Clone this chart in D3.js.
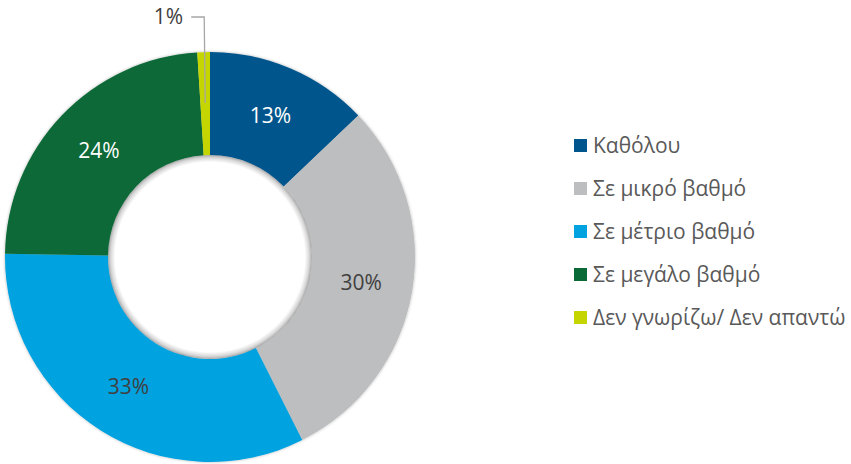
<!DOCTYPE html>
<html><head><meta charset="utf-8">
<script src="https://cdn.jsdelivr.net/npm/d3@7"></script>
<style>body{margin:0;background:#fff}svg{display:block}</style>
</head><body>
<script>
const categories = ["Καθόλου","Σε μικρό βαθμό","Σε μέτριο βαθμό","Σε μεγάλο βαθμό","Δεν γνωρίζω/ Δεν απαντώ"];
const values = [13, 30, 33, 24, 1];
const labels = ["13%","30%","33%","24%","1%"];
const colors = ["#00568C","#BDBEBF","#00A2E0","#0A6A37","#C5D500"];
const labelColors = ["#FFFFFF","#404040","#404040","#FFFFFF","#404040"];

const W = 851, H = 464;
const cx = 210, cy = 257, rOuter = 205, rInner = 102;
const svg = d3.select("body").append("svg").attr("width", W).attr("height", H);
const defs = svg.append("defs");
const f = defs.append("filter").attr("id","sh").attr("x","-10%").attr("y","-10%").attr("width","120%").attr("height","120%");
f.append("feDropShadow").attr("dx",0).attr("dy",0).attr("stdDeviation",1.5).attr("flood-color","#000").attr("flood-opacity",0.3);
const rg = defs.append("radialGradient").attr("id","hole");
rg.append("stop").attr("offset","93%").attr("stop-color","#000").attr("stop-opacity",0);
rg.append("stop").attr("offset","100%").attr("stop-color","#000").attr("stop-opacity",0.25);

const g = svg.append("g").attr("transform",`translate(${cx},${cy})`);
const pie = d3.pie().sort(null).value(d => d)(values);
const arc = d3.arc().innerRadius(rInner).outerRadius(rOuter);
const mid = d3.arc().innerRadius((rInner+rOuter)/2).outerRadius((rInner+rOuter)/2);

g.append("g").attr("filter","url(#sh)")
  .selectAll("path").data(pie).join("path")
  .attr("d", arc).attr("fill",(d,i)=>colors[i]);
g.append("circle").attr("r", rInner).attr("fill","url(#hole)");

const font = "'Open Sans', 'Noto Sans', sans-serif";
const fs = 21;
g.selectAll("text.lab").data(pie.slice(0,4)).join("text").attr("class","lab")
  .attr("transform", d => `translate(${mid.centroid(d)})`)
  .attr("text-anchor","middle").attr("dy","0.35em")
  .attr("font-family",font).attr("font-size",fs)
  .attr("fill",(d,i)=>labelColors[i]).text((d,i)=>labels[i]);

// small slice: leader line + outside label
const s = pie[4];
const a = (s.startAngle + s.endAngle)/2;
const px = Math.sin(a)*154, py = -Math.cos(a)*154;
const topY = -cy + 17;
g.append("polyline")
  .attr("points", `${px},${py} ${px-1},${topY} ${px-14},${topY}`)
  .attr("fill","none").attr("stroke","#A6A6A6").attr("stroke-width",1.3);
g.append("text").attr("x", px-22).attr("y", topY).attr("dy","0.35em")
  .attr("text-anchor","end").attr("font-family",font).attr("font-size",fs)
  .attr("fill","#404040").text(labels[4]);

// legend
const y = d3.scalePoint().domain(categories).range([146, 318]);
const lg = svg.append("g");
const items = lg.selectAll("g").data(categories).join("g")
  .attr("transform", d => `translate(574,${y(d)})`);
items.append("rect").attr("x",0).attr("y",-7).attr("width",13).attr("height",13)
  .attr("fill",(d,i)=>colors[i]);
items.append("text").attr("x",19).attr("dy","0.35em")
  .attr("font-family",font).attr("font-size",fs).attr("fill","#595959").text(d=>d);
</script>
</body></html>
